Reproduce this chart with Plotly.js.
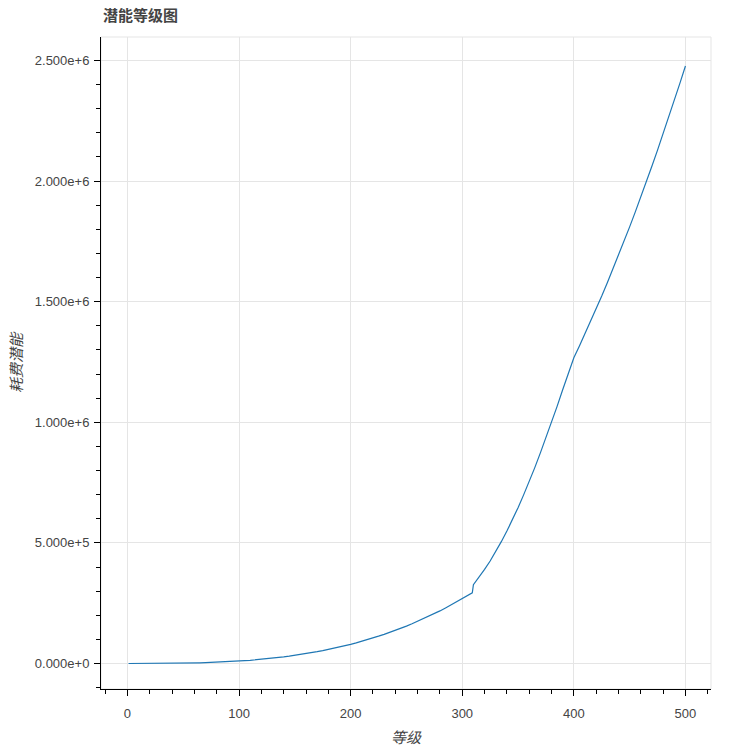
<!DOCTYPE html>
<html>
<head>
<meta charset="utf-8">
<script src="https://cdn.plot.ly/plotly-3.0.1.min.js"></script>
<style>
html,body{margin:0;padding:0;background:#fff;}
#chart{width:750px;height:750px;}
</style>
</head>
<body>
<div id="chart"></div>
<script>
// Level (等级) and potential cost (耗费潜能)
const levels = [
  1, 5, 10, 15, 20, 25, 30, 35, 40, 45, 50, 55, 60, 65, 70, 75, 80, 85, 90, 95, 100,
  105, 110, 115, 120, 125, 130, 135, 140, 145, 150, 155, 160, 165, 170, 175, 180, 185, 190, 195, 200,
  205, 210, 215, 220, 225, 230, 235, 240, 245, 250, 255, 260, 265, 270, 275, 280, 285, 290, 295, 300, 305, 309,
  310, 315, 320, 325, 330, 335, 340, 345, 350, 355, 360, 365, 370, 375, 380, 385, 390, 395, 399,
  400, 405, 410, 415, 420, 425, 430, 435, 440, 445, 450, 455, 460, 465, 470, 475, 480, 485, 490, 495, 500
];
const costs = [
  0, 1, 10, 34, 80, 155, 270, 427, 640, 907, 1240, 1655, 2150, 2733, 3410, 4198, 5090, 6110, 7250, 8531, 9950,
  11520, 13200, 15130, 17200, 19430, 21900, 24480, 27300, 30330, 33600, 37050, 40800, 44700, 48900, 53330, 58000, 63000, 68200, 73780, 79600,
  85730, 92100, 98900, 106000, 113400, 121000, 129100, 138000, 146300, 155000, 165000, 175000, 185200, 196000, 207000, 218000, 230400, 243000, 255400, 269000, 282300, 293000,
  327000, 357000, 390000, 425000, 464000, 505000, 549000, 596000, 646000, 699000, 754000, 812000, 873000, 936000, 1000000, 1066000, 1135000, 1203000, 1262000,
  1267000, 1316000, 1366000, 1417000, 1469000, 1523000, 1578000, 1634000, 1691000, 1750000, 1810000, 1871000, 1933000, 1997000, 2062000, 2128000, 2195000, 2264000, 2334000, 2405000, 2477000
];

const chartTitle = '潜能等级图';
const xTitle = '等级';
const yTitle = '耗费潜能';

const FONT = '"Liberation Sans", Arial, "Noto Sans CJK SC", sans-serif';
const CJK = '"Noto Sans CJK SC", "Liberation Sans", sans-serif';

const trace = {
  x: levels,
  y: costs,
  type: 'scatter',
  mode: 'lines',
  line: {color: '#1f77b4', width: 1.2},
  hoverinfo: 'x+y'
};

const layout = {
  width: 750,
  height: 750,
  margin: {l: 101, r: 39, t: 37, b: 61, pad: 0},
  paper_bgcolor: '#fff',
  plot_bgcolor: '#fff',
  showlegend: false,
  title: {
    text: '<b>' + chartTitle + '</b>',
    font: {family: CJK, size: 15, color: '#444'},
    x: 0, xref: 'paper', xanchor: 'left',
    y: 1, yref: 'container', yanchor: 'top',
    pad: {t: 10, l: 2}
  },
  xaxis: {
    range: [-23.7, 522.9],
    tick0: 0, dtick: 100,
    ticks: 'outside', ticklen: 6, tickwidth: 1, tickcolor: '#000',
    ticklabelstandoff: 6,
    showline: true, linecolor: '#000', linewidth: 1,
    showgrid: true, gridcolor: '#e5e5e5', gridwidth: 1,
    zeroline: false,
    tickfont: {family: FONT, size: 13, color: '#444'},
    minor: {tick0: 0, dtick: 20, ticks: 'outside', ticklen: 4, tickcolor: '#000', tickwidth: 1, showgrid: false},
    title: {text: '<i>' + xTitle + '</i>', font: {family: CJK, size: 15, color: '#444'}, standoff: 12},
    automargin: false
  },
  yaxis: {
    range: [-105700, 2597000],
    tick0: 0, dtick: 500000,
    tickformat: '.3e',
    ticks: 'outside', ticklen: 6, tickwidth: 1, tickcolor: '#000',
    ticklabelstandoff: 2,
    showline: true, linecolor: '#000', linewidth: 1,
    showgrid: true, gridcolor: '#e5e5e5', gridwidth: 1,
    zeroline: false,
    tickfont: {family: FONT, size: 13, color: '#444'},
    minor: {tick0: 0, dtick: 100000, ticks: 'outside', ticklen: 4, tickcolor: '#000', tickwidth: 1, showgrid: false},
    title: {text: '<i>' + yTitle + '</i>', font: {family: CJK, size: 15, color: '#444'}, standoff: 8},
    automargin: false
  },
  shapes: [{
    type: 'rect', xref: 'paper', yref: 'paper', x0: 0, x1: 1, y0: 0, y1: 1,
    line: {color: '#e5e5e5', width: 1}, fillcolor: 'rgba(0,0,0,0)', layer: 'below'
  }]
};

Plotly.newPlot('chart', [trace], layout, {displayModeBar: false, staticPlot: true});
</script>
</body>
</html>
